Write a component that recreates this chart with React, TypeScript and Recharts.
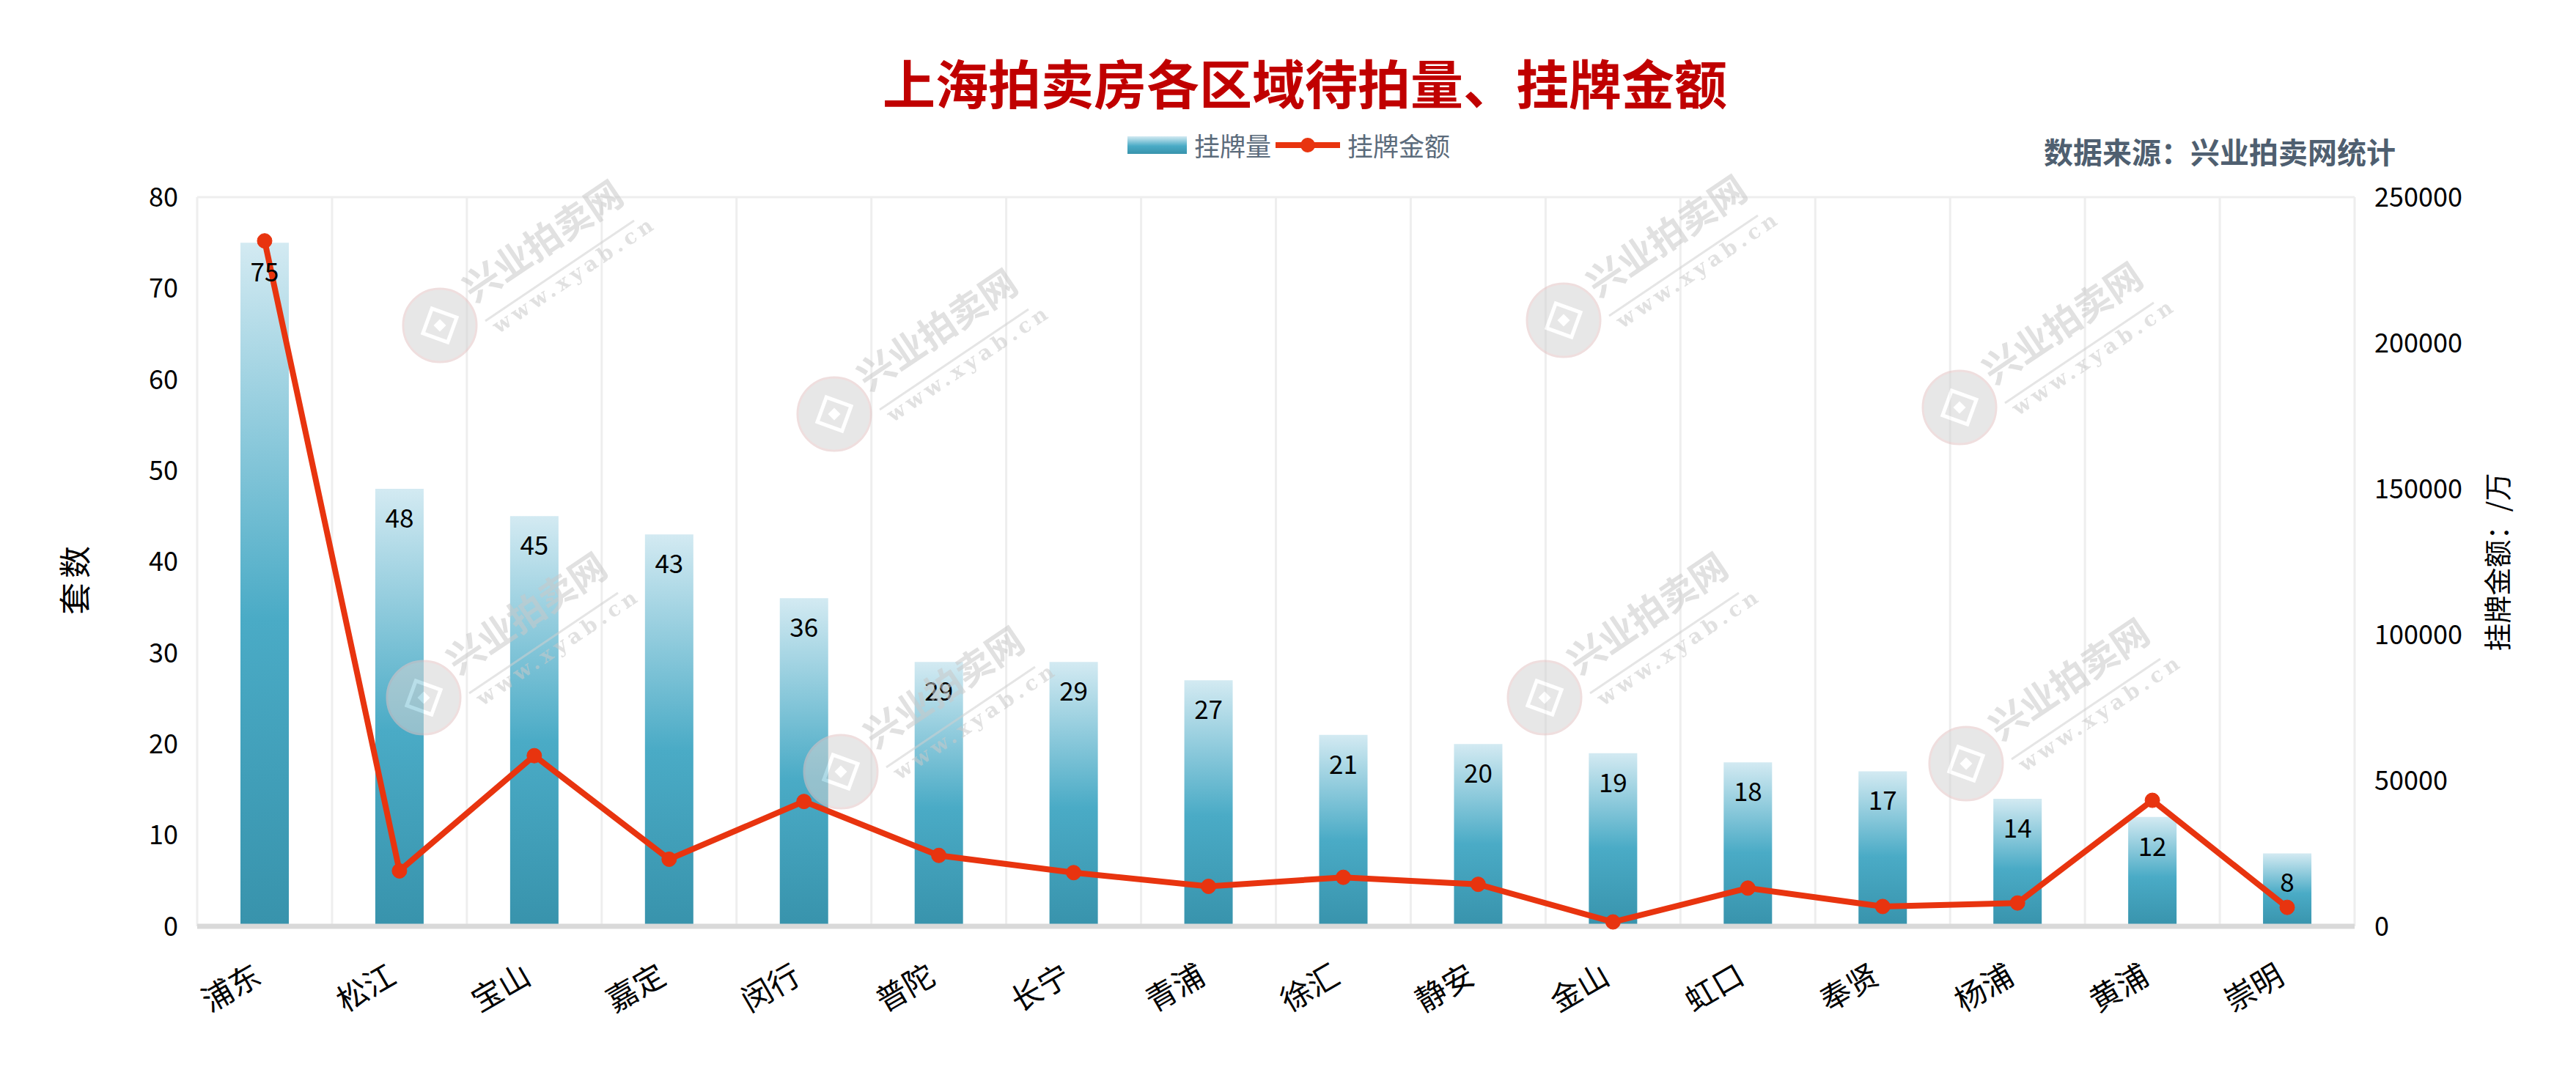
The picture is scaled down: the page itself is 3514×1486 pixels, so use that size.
import React from 'react';
import {
    Bar,
    CartesianGrid,
    ComposedChart,
    LabelList,
    Line,
    ReferenceLine,
    XAxis,
    YAxis,
} from 'recharts';

const districts = ['浦东', '松江', '宝山', '嘉定', '闵行', '普陀', '长宁', '青浦', '徐汇', '静安', '金山', '虹口', '奉贤', '杨浦', '黄浦', '崇明'];
const listingCounts = [75, 48, 45, 43, 36, 29, 29, 27, 21, 20, 19, 18, 17, 14, 12, 8];
const listingAmounts = [235000, 19000, 58500, 23000, 42800, 24300, 18400, 13700, 16800, 14400, 1500, 13100, 6800, 8000, 43200, 6500];

const countTicks = [0, 10, 20, 30, 40, 50, 60, 70, 80];
const amountTicks = [0, 50000, 100000, 150000, 200000, 250000];

const title = '上海拍卖房各区域待拍量、挂牌金额';
const source = '数据来源：兴业拍卖网统计';
const countName = '挂牌量';
const amountName = '挂牌金额';
const leftAxisTitle = '套数';
const rightAxisTitle = '挂牌金额：/万';

const rows = districts.map((district, i) => ({
    district,
    count: listingCounts[i],
    amount: listingAmounts[i],
}));

const W = 3498;
const H = 1470;
const FONT = "'Noto Sans CJK SC', 'Noto Sans', sans-serif";
const LINE_COLOR = '#e8340f';

// watermark spots (decoration only)
const marks = [
    [592, 436], [1130, 557], [570, 944], [1139, 1045],
    [2125, 429], [2665, 548], [2099, 944], [2674, 1034],
];

// split lines sit on the category boundaries, not on the tick centres
function categoryBoundaries({ offset }: any) {
    const step = offset.width / districts.length;
    return districts.map((_, i) => offset.left + i * step).concat(offset.left + offset.width);
}

function DistrictTick(props: any) {
    const { x, y, payload } = props;
    const ax = x - 11;
    const ay = y + 60;
    return (
        <text
            x={ax}
            y={ay}
            transform={`rotate(-30, ${ax}, ${ay})`}
            textAnchor="end"
            dominantBaseline="central"
            fontSize={42}
            fill="#000"
        >
            {payload.value}
        </text>
    );
}

function Watermarks() {
    return (
        <svg width={W} height={H} style={{ position: 'absolute', left: 0, top: 0, pointerEvents: 'none' }}>
            {marks.map(([cx, cy], i) => (
                <g key={i} opacity={0.55}>
                    <circle cx={cx} cy={cy} r={50} fill="#d4d4d4" stroke="#e2c4c4" strokeWidth={3} />
                    <rect x={cx - 18} y={cy - 18} width={36} height={36} fill="none" stroke="#fff" strokeWidth={5} transform={`rotate(20, ${cx}, ${cy})`} />
                    <rect x={cx - 6} y={cy - 6} width={12} height={12} fill="#fff" transform={`rotate(45, ${cx}, ${cy})`} />
                    <text x={cx + 47} y={cy - 30} transform={`rotate(-34, ${cx + 47}, ${cy - 30})`} fontSize={50} fontWeight={700} fill="#c8c8c8">
                        兴业拍卖网
                    </text>
                    <line x1={cx + 62} y1={cy - 6} x2={cx + 265} y2={cy - 143} stroke="#cfcfcf" strokeWidth={3} />
                    <text x={cx + 80} y={cy + 12} transform={`rotate(-34, ${cx + 80}, ${cy + 12})`} fontSize={28} fontWeight={700} letterSpacing={6} fill="#c8c8c8" fontFamily="'DejaVu Serif', serif">
                        www.xyab.cn
                    </text>
                </g>
            ))}
        </svg>
    );
}

export default function App() {
    return (
        <div style={{ position: 'relative', width: W, height: H, fontFamily: FONT, background: '#fff' }}>
            <ComposedChart width={W} height={H} data={rows} margin={{ top: 261, right: 124, bottom: 84, left: 141 }}>
                <defs>
                    <linearGradient id="barFill" x1="0" y1="0" x2="0" y2="1">
                        <stop offset="0%" stopColor="#d3eaf2" />
                        <stop offset="55%" stopColor="#4aabc6" />
                        <stop offset="100%" stopColor="#3893ac" />
                    </linearGradient>
                </defs>
                <CartesianGrid
                    yAxisId="left"
                    horizontal={false}
                    verticalCoordinatesGenerator={categoryBoundaries}
                    stroke="#eeeeee"
                    strokeWidth={3}
                />
                <XAxis
                    dataKey="district"
                    interval={0}
                    height={130}
                    tickLine={false}
                    tickSize={0}
                    tickMargin={0}
                    axisLine={{ stroke: '#d9d9d9', strokeWidth: 7 }}
                    tick={<DistrictTick />}
                />
                <YAxis
                    yAxisId="left"
                    domain={[0, 80]}
                    ticks={countTicks}
                    width={120}
                    axisLine={false}
                    tickLine={false}
                    tickSize={0}
                    tickMargin={26}
                    tick={{ fontSize: 36, fill: '#000' }}
                />
                <YAxis
                    yAxisId="right"
                    orientation="right"
                    domain={[0, 250000]}
                    ticks={amountTicks}
                    width={170}
                    axisLine={false}
                    tickLine={false}
                    tickSize={0}
                    tickMargin={27}
                    tick={{ fontSize: 36, fill: '#000' }}
                />
                <ReferenceLine yAxisId="left" y={80} stroke="#eeeeee" strokeWidth={3} />
                <Bar yAxisId="left" dataKey="count" name={countName} barSize={66} fill="url(#barFill)" isAnimationActive={false}>
                    <LabelList dataKey="count" position="insideTop" offset={28} fontSize={35} fill="#000" />
                </Bar>
                <Line
                    yAxisId="right"
                    type="linear"
                    dataKey="amount"
                    name={amountName}
                    stroke={LINE_COLOR}
                    strokeWidth={8}
                    dot={{ r: 10, fill: LINE_COLOR, stroke: LINE_COLOR, strokeWidth: 1 }}
                    isAnimationActive={false}
                />
            </ComposedChart>

            <Watermarks />

            <div style={{ position: 'absolute', left: 1772, top: 103, transform: 'translate(-50%, -50%)', fontSize: 72, fontWeight: 700, color: '#c00000', whiteSpace: 'nowrap', lineHeight: 1 }}>
                {title}
            </div>

            <div style={{ position: 'absolute', left: 1530, top: 172, display: 'flex', alignItems: 'center', fontSize: 35, color: '#5b6b7b', lineHeight: 1, whiteSpace: 'nowrap' }}>
                <span style={{ display: 'inline-block', width: 81, height: 24, background: 'linear-gradient(#d3eaf2, #4aabc6 55%, #3893ac)' }} />
                <span style={{ marginLeft: 10 }}>{countName}</span>
                <svg width={88} height={24} style={{ marginLeft: 6 }}>
                    <line x1={0} y1={12} x2={88} y2={12} stroke={LINE_COLOR} strokeWidth={8} />
                    <circle cx={44} cy={12} r={10} fill={LINE_COLOR} />
                </svg>
                <span style={{ marginLeft: 10 }}>{amountName}</span>
            </div>

            <div style={{ position: 'absolute', right: W - 3260, top: 198, transform: 'translateY(-50%)', fontSize: 40, fontWeight: 700, color: '#4f5f70', whiteSpace: 'nowrap', lineHeight: 1 }}>
                {source}
            </div>

            <div style={{ position: 'absolute', left: 92, top: 781, transform: 'translate(-50%, -50%) rotate(-90deg)', fontSize: 44, letterSpacing: 6, color: '#000', whiteSpace: 'nowrap', lineHeight: 1 }}>
                {leftAxisTitle}
            </div>

            <div style={{ position: 'absolute', left: 3397, top: 759, transform: 'translate(-50%, -50%) rotate(-90deg)', fontSize: 38, color: '#000', whiteSpace: 'nowrap', lineHeight: 1 }}>
                {rightAxisTitle}
            </div>
        </div>
    );
}
